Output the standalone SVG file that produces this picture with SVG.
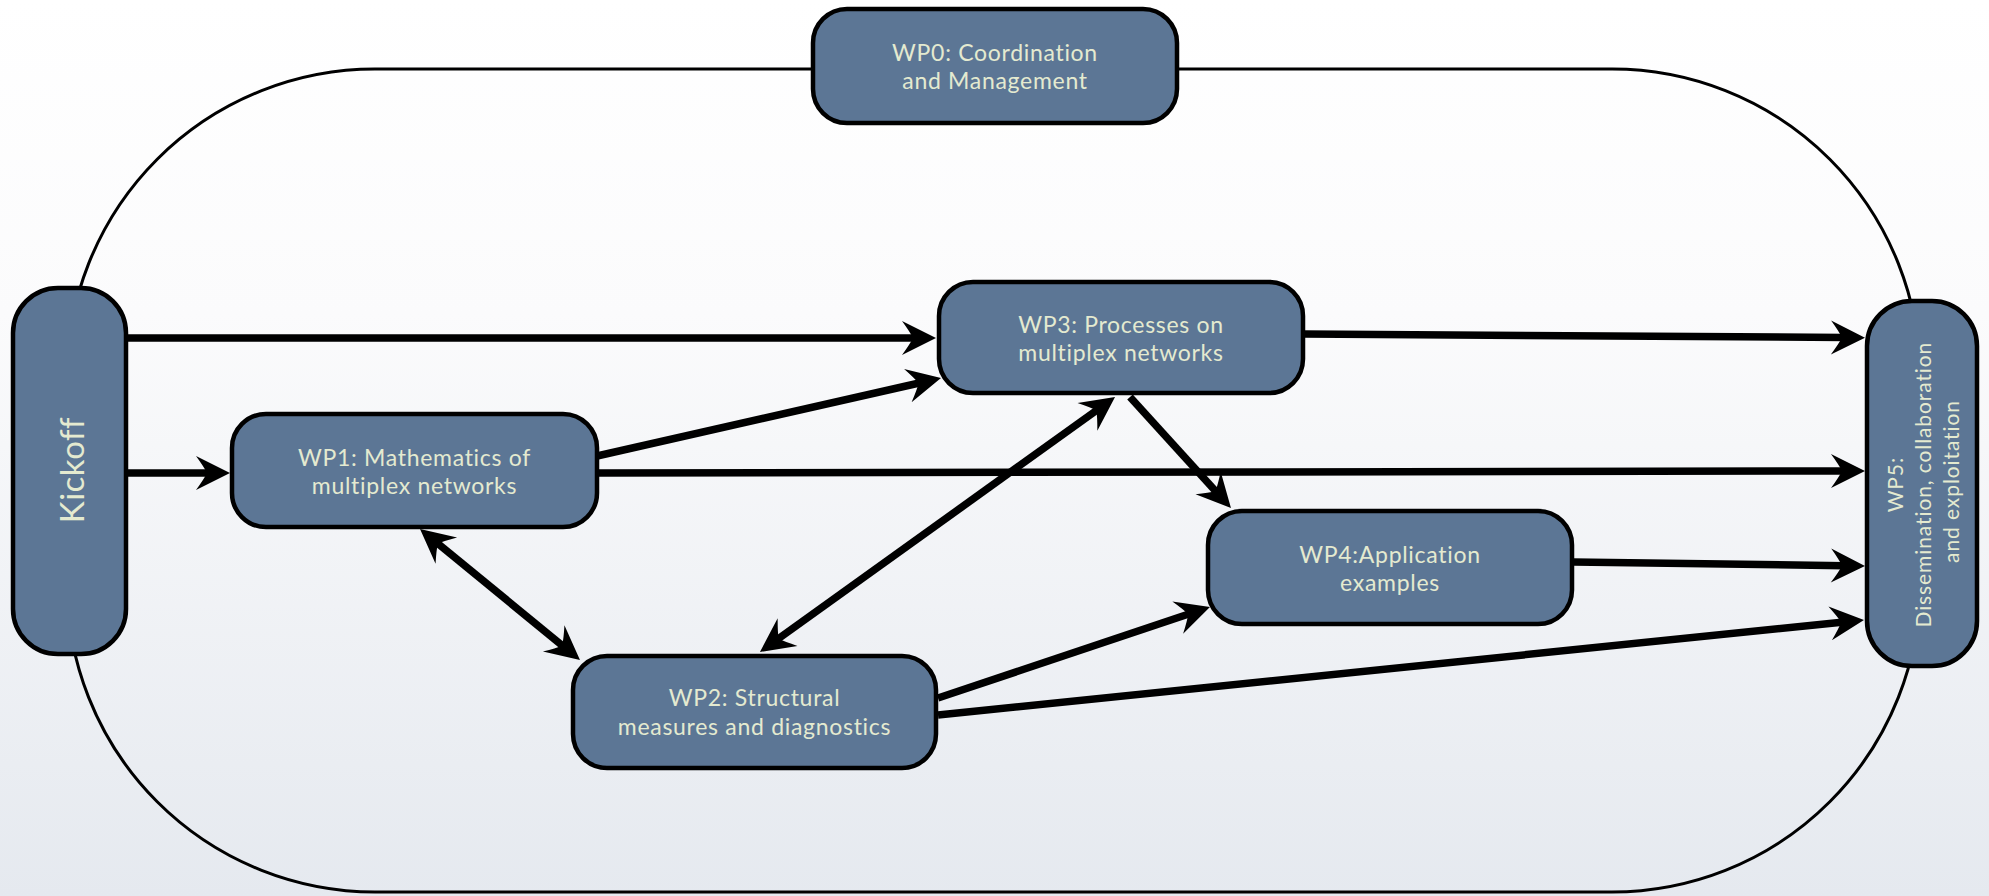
<svg xmlns="http://www.w3.org/2000/svg" width="1989" height="896" viewBox="0 0 1989 896">
<style>
.node rect{fill:#5c7695;stroke:#000;stroke-width:4.5}
.lbl{font-family:Lato,"Open Sans","Liberation Sans",sans-serif;font-size:23px;letter-spacing:0.7px;fill:#e4ead0;text-anchor:middle}
.conn path{fill:none;stroke:#000;stroke-width:7.5}
</style>
<defs>
<linearGradient id="bg" x1="0" y1="0" x2="0" y2="1">
<stop offset="0" stop-color="#ffffff"/>
<stop offset="0.35" stop-color="#fbfbfc"/>
<stop offset="1" stop-color="#e5e9ef"/>
</linearGradient>
<marker id="ah" markerUnits="userSpaceOnUse" viewBox="-16 -19 38 38" refX="0" refY="0" markerWidth="38" markerHeight="38" orient="auto-start-reverse" style="overflow:visible">
<path d="M20,0 L-14,-17 Q-6,-6 -3,0 Q-6,6 -14,17 Z" fill="#000"/>
</marker>
</defs>
<rect x="0" y="0" width="1989" height="896" fill="url(#bg)"/>
<rect id="oval" x="67" y="69" width="1853" height="823" rx="308" ry="308" fill="none" stroke="#000" stroke-width="3"/>
<g id="connectors" class="conn">
<path d="M127,338 L916,338" marker-end="url(#ah)"/>
<path d="M127,473 L210,473" marker-end="url(#ah)"/>
<path d="M597,456 L921.5,382.5" marker-end="url(#ah)"/>
<path d="M597,473 L1845,471" marker-end="url(#ah)"/>
<path d="M1303,334 L1845,337.5" marker-end="url(#ah)"/>
<path d="M1130,397 L1217.5,493.2" marker-end="url(#ah)"/>
<path d="M1573,562 L1845,565.7" marker-end="url(#ah)"/>
<path d="M938,698 L1191,613.3" marker-end="url(#ah)"/>
<path d="M938,715 L1844.1,622" marker-end="url(#ah)"/>
<path d="M435.5,541.7 L564.5,647.3" marker-start="url(#ah)" marker-end="url(#ah)"/>
<path d="M776.2,640.3 L1098.8,408.7" marker-start="url(#ah)" marker-end="url(#ah)"/>
</g>
<g id="wp0" class="node">
<rect x="813" y="9" width="364" height="114" rx="34"/>
<text class="lbl" x="995" y="61">WP0: Coordination</text>
<text class="lbl" x="995" y="89">and Management</text>
</g>
<g id="kickoff" class="node">
<rect x="13" y="288" width="113" height="366" rx="45"/>
<text class="lbl" transform="translate(84,470) rotate(-90)" style="font-size:33px;letter-spacing:0.5px">Kickoff</text>
</g>
<g id="wp1" class="node">
<rect x="232" y="414" width="365" height="113" rx="34"/>
<text class="lbl" x="414.5" y="465.5">WP1: Mathematics of</text>
<text class="lbl" x="414.5" y="494">multiplex networks</text>
</g>
<g id="wp3" class="node">
<rect x="939" y="282" width="364" height="111" rx="34"/>
<text class="lbl" x="1121" y="333">WP3: Processes on</text>
<text class="lbl" x="1121" y="361">multiplex networks</text>
</g>
<g id="wp4" class="node">
<rect x="1208" y="511" width="364" height="113" rx="34"/>
<text class="lbl" x="1390" y="562.5">WP4:Application</text>
<text class="lbl" x="1390" y="590.5">examples</text>
</g>
<g id="wp2" class="node">
<rect x="573" y="656" width="363" height="112" rx="34"/>
<text class="lbl" x="754.5" y="706">WP2: Structural</text>
<text class="lbl" x="754.5" y="735">measures and diagnostics</text>
</g>
<g id="wp5" class="node">
<rect x="1867" y="301" width="110" height="365" rx="45"/>
<text class="lbl" transform="translate(1922,481.5) rotate(-90)" style="font-size:21px;letter-spacing:0.9px">
<tspan x="0" y="-19">WP5:</tspan>
<tspan x="0" y="9">Dissemination, collaboration</tspan>
<tspan x="0" y="37">and exploitation</tspan>
</text>
</g>
</svg>
